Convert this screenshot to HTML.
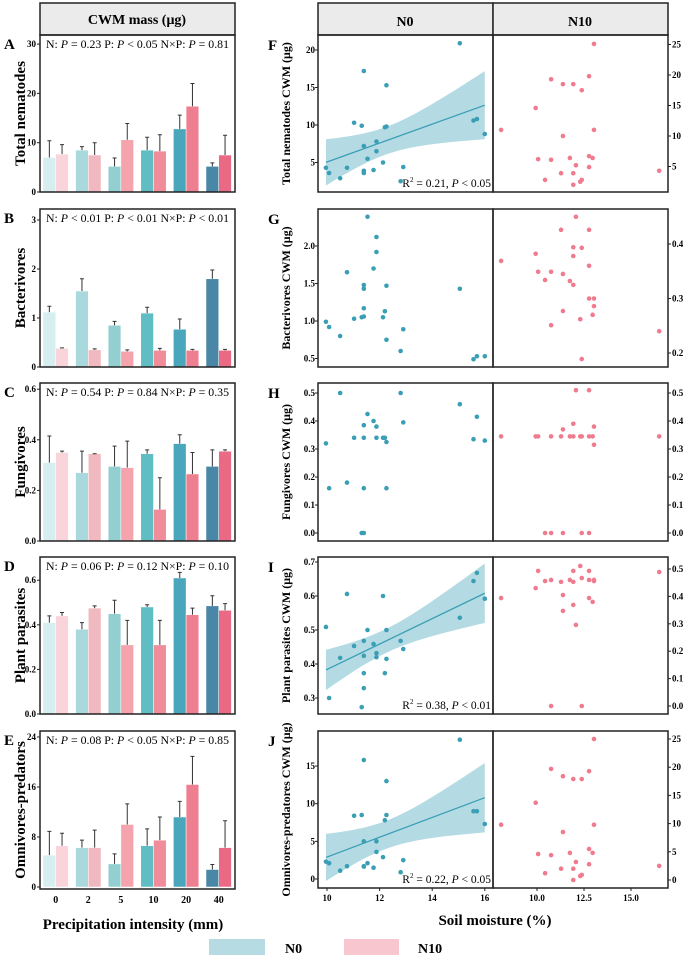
<!DOCTYPE html>
<html><head><meta charset="utf-8">
<style>
html,body{margin:0;padding:0;background:#fff;}
svg{display:block;font-family:"Liberation Serif",serif;}
</style></head>
<body>
<svg id="fig" width="685" height="958" viewBox="0 0 685 958" xmlns="http://www.w3.org/2000/svg">
  <rect x="40" y="3" width="195" height="32" fill="#ebebeb" stroke="#222" stroke-width="1.5"/>
  <text x="137" y="24" text-anchor="middle" font-weight="bold" font-size="14">CWM mass (μg)</text>
  <rect x="318" y="3" width="175" height="32" fill="#ebebeb" stroke="#222" stroke-width="1.5"/>
  <text x="405" y="26" text-anchor="middle" font-weight="bold" font-size="14">N0</text>
  <rect x="493" y="3" width="175" height="32" fill="#ebebeb" stroke="#222" stroke-width="1.5"/>
  <text x="580" y="26" text-anchor="middle" font-weight="bold" font-size="14">N10</text>
  <text x="133" y="929" text-anchor="middle" font-weight="bold" font-size="15">Precipitation intensity (mm)</text>
  <text x="495" y="925" text-anchor="middle" font-weight="bold" font-size="15">Soil moisture (%)</text>
  <rect x="209" y="939" width="56" height="16" fill="#b6dbe2"/>
  <text x="285" y="953" font-weight="bold" font-size="14">N0</text>
  <rect x="344" y="939" width="55" height="16" fill="#f7c6ce"/>
  <text x="418" y="953" font-weight="bold" font-size="14">N10</text>
</svg>
<script>
// ---------- bar chart data ----------
const precipCats = ["0","2","5","10","20","40"];
const A_n0 = [7.0,8.5,5.2,8.5,12.8,5.2];
const A_n0err = [10.4,9.2,6.9,11.1,15.6,5.9];
const A_n10 = [7.7,7.5,10.6,8.3,17.4,7.5];
const A_n10err = [9.6,10.0,13.9,11.6,22.0,11.5];
const B_n0 = [1.12,1.55,0.85,1.10,0.77,1.80];
const B_n0err = [1.24,1.80,0.93,1.22,0.98,1.98];
const B_n10 = [0.38,0.35,0.32,0.34,0.34,0.34];
const B_n10err = [0.39,0.37,0.35,0.38,0.36,0.36];
const C_n0 = [0.31,0.27,0.295,0.345,0.385,0.295];
const C_n0err = [0.415,0.355,0.375,0.36,0.42,0.36];
const C_n10 = [0.35,0.345,0.29,0.125,0.265,0.355];
const C_n10err = [0.355,0.345,0.395,0.25,0.35,0.36];
const D_n0 = [0.41,0.38,0.45,0.48,0.61,0.485];
const D_n0err = [0.44,0.41,0.51,0.49,0.635,0.53];
const D_n10 = [0.44,0.475,0.31,0.31,0.445,0.465];
const D_n10err = [0.455,0.485,0.42,0.42,0.475,0.495];
const E_n0 = [5.1,6.3,3.7,6.6,11.2,2.8];
const E_n0err = [8.9,7.5,5.3,9.3,13.7,3.6];
const E_n10 = [6.6,6.3,10.0,7.5,16.4,6.3];
const E_n10err = [8.6,9.1,13.3,11.2,20.9,10.6];
const A_ticks = [0,10,20,30];
const B_ticks = [0,1,2,3];
const C_ticks = [0.0,0.2,0.4,0.6];
const D_ticks = [0.0,0.2,0.4,0.6];
const E_ticks = [0,8,16,24];

// ---------- scatter data ----------
const N0x = [9.96,10.08,10.5,10.76,11.03,11.32,11.4,11.4,11.4,11.4,11.54,11.77,11.88,11.88,12.13,12.2,12.26,12.26,12.8,12.9,15.05,15.57,15.7,16.0];
const F_n0y = [4.3,3.6,2.9,4.3,10.3,9.9,17.2,7.2,3.9,3.6,5.5,4.0,7.8,6.5,5.0,9.7,9.8,15.3,2.5,4.4,20.9,10.6,10.8,8.8];
const G_n0y = [0.99,0.92,0.80,1.65,1.03,1.05,1.06,1.17,1.48,1.43,2.39,1.70,1.92,2.12,1.05,1.13,0.75,1.47,0.60,0.89,1.43,0.49,0.53,0.53];
const H_n0y = [0.32,0.16,0.50,0.18,0.34,0.0,0.0,0.34,0.385,0.16,0.425,0.40,0.38,0.34,0.34,0.34,0.16,0.325,0.50,0.395,0.46,0.335,0.415,0.33];
const I_n0y = [0.509,0.30,0.418,0.606,0.453,0.273,0.468,0.329,0.373,0.424,0.50,0.459,0.432,0.42,0.60,0.373,0.415,0.50,0.468,0.444,0.536,0.644,0.668,0.592];
const J_n0y = [2.3,2.1,1.1,1.7,8.4,8.5,1.7,1.65,15.8,5.0,2.1,1.5,5.0,3.6,2.9,7.8,8.5,13.0,0.9,2.5,18.5,9.0,9.0,7.3];
const F_n10x = [8.09,9.93,10.06,10.43,10.75,10.75,11.28,11.38,11.38,11.75,11.93,11.93,11.93,12.07,12.3,12.38,12.38,12.77,12.77,12.77,12.96,13.03,13.03,16.5];
const F_n10y = [11.0,14.6,6.2,2.8,19.3,6.1,3.9,18.5,10.0,6.4,3.9,18.5,2.0,5.2,2.5,2.8,17.5,4.9,19.8,6.7,6.4,11.0,25.1,4.3];
const G_n10x = [8.09,9.93,10.06,10.43,10.75,10.75,11.28,11.38,11.38,11.75,11.93,11.93,11.93,12.07,12.3,12.38,12.38,12.77,12.77,12.77,13.03,13.03,12.96,16.5];
const G_n10y = [0.369,0.382,0.349,0.334,0.251,0.349,0.426,0.345,0.277,0.332,0.394,0.378,0.325,0.45,0.262,0.393,0.189,0.426,0.36,0.30,0.30,0.286,0.27,0.24];
const H_n10x = [8.09,9.93,10.06,10.43,10.75,10.75,11.28,11.38,11.38,11.75,11.93,11.93,12.07,12.3,12.38,12.38,12.77,12.77,12.77,12.96,13.03,13.03,16.5];
const H_n10y = [0.345,0.345,0.345,0.0,0.0,0.345,0.345,0.37,0.0,0.345,0.345,0.39,0.51,0.345,0.345,0.0,0.345,0.51,0.0,0.345,0.315,0.38,0.345];
const I_n10x = [8.09,9.93,10.06,10.43,10.75,10.75,11.28,11.38,11.38,11.75,11.93,11.93,11.93,12.07,12.3,12.38,12.38,12.77,12.77,12.77,12.96,13.03,13.03,16.5];
const I_n10y = [0.394,0.43,0.493,0.456,0.0,0.46,0.453,0.347,0.405,0.46,0.493,0.453,0.369,0.296,0.511,0.467,0.0,0.493,0.394,0.46,0.38,0.456,0.46,0.489];
const J_n10x = [8.09,9.93,10.06,10.43,10.75,10.75,11.28,11.38,11.38,11.75,11.93,11.93,11.93,12.07,12.3,12.38,12.38,12.77,12.77,12.77,12.96,13.03,13.03,16.5];
const J_n10y = [9.8,13.7,4.6,1.2,19.7,4.4,2.0,18.4,8.5,4.8,2.0,17.9,0.0,3.2,0.7,0.9,17.9,19.3,2.8,5.5,4.8,9.8,25.0,2.5];
const xTicksN0 = [10,12,14,16];
const xTicksN10 = [10.0,12.5,15.0];

const NS = "http://www.w3.org/2000/svg";
const svg = document.getElementById("fig");
function mk(tag, attrs, parent){
  const e = document.createElementNS(NS, tag);
  for (const k in attrs) e.setAttribute(k, attrs[k]);
  (parent||svg).appendChild(e);
  return e;
}
const n0Cols = ["#d7eef1","#a9d9dd","#93cfd0","#5fbdc3","#4aa6bb","#4a87a7"];
const n10Cols = ["#f9d5db","#f0b8bf","#f5a3ad","#f18d9b","#ee7f90","#ea6a85"];

function barPanel(p){
  const top=p.top, bot=p.bot, L=40, R=235;
  const y = v => p.y0 - (v - p.v0) * p.k;
  const g = mk("g", {});
  
  
  p.n0.forEach((v,i)=>{
    const gx = 43 + 32.6*i;
    const b = mk("rect",{x:gx,y:y(v),width:12.7,height:y(0)-y(v),fill:n0Cols[i],stroke:"#fff","stroke-width":0.5},g);
    
    
    const e = mk("path",{d:`M${gx+6.35},${y(v)}V${y(p.n0e[i])}m-2,0h4`,stroke:"#333","stroke-width":1,fill:"none"},g);
    
    
    const v2 = p.n10[i];
    const b2 = mk("rect",{x:gx+12.7,y:y(v2),width:12.7,height:y(0)-y(v2),fill:n10Cols[i],stroke:"#fff","stroke-width":0.5},g);
    
    
    const e2 = mk("path",{d:`M${gx+19.05},${y(v2)}V${y(p.n10e[i])}m-2,0h4`,stroke:"#333","stroke-width":1,fill:"none"},g);
    
    
  });
  const fr = mk("rect",{x:L,y:top,width:R-L,height:bot-top,fill:"none",stroke:"#222","stroke-width":1.5},g);
  
  
  p.ticks.forEach(t=>{
    mk("line",{x1:L-3,x2:L,y1:y(t),y2:y(t),stroke:"#222"},g);
    const tl = mk("text",{x:L-4,y:y(t)+3,"text-anchor":"end","font-size":9,"font-weight":"bold"},g);
    tl.textContent = p.fmt(t);
    
    
  });
  const an = mk("text",{x:46,y:top+13,"font-size":11.5,textLength:183,lengthAdjust:"spacingAndGlyphs"},g);
  an.innerHTML = p.ann;
  
  
  const lt = mk("text",{x:4,y:top+14,"font-size":15,"font-weight":"bold"},g);
  lt.textContent = p.id;
  
  
  const cy=(top+bot)/2;
  const yt = mk("text",{x:0,y:0,"font-size":15,"font-weight":"bold","text-anchor":"middle",transform:`translate(25,${cy}) rotate(-90)`},g);
  yt.textContent = p.title;
  
  
  if (p.xlab){
    precipCats.forEach((c,i)=>{
      const xl = mk("text",{x:43+32.6*i+12.7,y:bot+14,"font-size":10,"font-weight":"bold","text-anchor":"middle"},g);
      xl.textContent = c;
      
      
    });
  }
}
const P = t => `<tspan font-style="italic">P</tspan>`;
const f0 = t=>String(t), f1 = t=>t.toFixed(1);
barPanel({id:"A",top:35,bot:192,y0:192,v0:0,k:4.93,n0:A_n0,n0e:A_n0err,n10:A_n10,n10e:A_n10err,ticks:A_ticks,fmt:f0,title:"Total nematodes",ann:`N: ${P()} = 0.23 P: ${P()} &lt; 0.05 N×P: ${P()} = 0.81`});
barPanel({id:"B",top:209,bot:367,y0:367,v0:0,k:49,n0:B_n0,n0e:B_n0err,n10:B_n10,n10e:B_n10err,ticks:B_ticks,fmt:f0,title:"Bacterivores",ann:`N: ${P()} &lt; 0.01 P: ${P()} &lt; 0.01 N×P: ${P()} &lt; 0.01`});
barPanel({id:"C",top:383,bot:541,y0:541,v0:0,k:253,n0:C_n0,n0e:C_n0err,n10:C_n10,n10e:C_n10err,ticks:C_ticks,fmt:f1,title:"Fungivores",ann:`N: ${P()} = 0.54 P: ${P()} = 0.84 N×P: ${P()} = 0.35`});
barPanel({id:"D",top:557,bot:714,y0:714,v0:0,k:223,n0:D_n0,n0e:D_n0err,n10:D_n10,n10e:D_n10err,ticks:D_ticks,fmt:f1,title:"Plant parasites",ann:`N: ${P()} = 0.06 P: ${P()} = 0.12 N×P: ${P()} = 0.10`});
barPanel({id:"E",top:731,bot:889,y0:887,v0:0,k:6.25,n0:E_n0,n0e:E_n0err,n10:E_n10,n10e:E_n10err,ticks:E_ticks,fmt:f0,title:"Omnivores-predators",ann:`N: ${P()} = 0.08 P: ${P()} &lt; 0.05 N×P: ${P()} = 0.85`,xlab:true});

// ---------- scatter panels ----------
const xL = v => 327 + (v-10)*26.3;
const xR = v => 537 + (v-10)*18.8;
function scatterPanel(p){
  const top=p.top, bot=p.bot;
  const g = mk("g", {});
  
  
  const cid = "clip"+p.id;
  const cp = mk("clipPath",{id:cid},g);
  mk("rect",{x:318,y:top,width:175,height:bot-top},cp);
  if (p.fit){
    const xs=p.n0x, ys=p.n0y, n=xs.length;
    const mx=xs.reduce((a,b)=>a+b)/n, my=ys.reduce((a,b)=>a+b)/n;
    let sxx=0,sxy=0; xs.forEach((x,i)=>{sxx+=(x-mx)**2;sxy+=(x-mx)*(ys[i]-my);});
    const b=sxy/sxx, a=my-b*mx;
    let sse=0; xs.forEach((x,i)=>{sse+=(ys[i]-a-b*x)**2;});
    const s=Math.sqrt(sse/(n-2)), t=2.074;
    const x0=Math.min(...xs), x1=Math.max(...xs);
    let up=[],lo=[];
    for(let k=0;k<=40;k++){
      const x=x0+(x1-x0)*k/40, yh=a+b*x, se=s*Math.sqrt(1/n+(x-mx)**2/sxx);
      up.push(`${xL(x)},${p.yL(yh+t*se)}`); lo.unshift(`${xL(x)},${p.yL(yh-t*se)}`);
    }
    const band = mk("polygon",{points:up.concat(lo).join(" "),fill:"#b4dbe3","clip-path":`url(#${cid})`},g);
    
    
    const ln = mk("line",{x1:xL(x0),y1:p.yL(a+b*x0),x2:xL(x1),y2:p.yL(a+b*x1),stroke:"#3a9fb5","stroke-width":1.3},g);
    
    
    const rt = mk("text",{x:491,y:bot-5,"text-anchor":"end","font-size":11.5},g);
    rt.innerHTML = `R<tspan font-size="7" dy="-5">2</tspan><tspan dy="5"> = ${p.r2}, </tspan><tspan font-style="italic">P</tspan> &lt; ${p.pv}`;
    
    
  }
  p.n0x.forEach((x,i)=>{
    const c = mk("circle",{cx:xL(x),cy:p.yL(p.n0y[i]),r:2.3,fill:"#3a9fb5"},g);
    
    
  });
  p.n10x.forEach((x,i)=>{
    const c = mk("circle",{cx:xR(x),cy:p.yR(p.n10y[i]),r:2.3,fill:"#f07a8e"},g);
    
    
  });
  const f1 = mk("rect",{x:318,y:top,width:175,height:bot-top,fill:"none",stroke:"#222","stroke-width":1.5},g);
  
  
  const f2 = mk("rect",{x:493,y:top,width:175,height:bot-top,fill:"none",stroke:"#222","stroke-width":1.5},g);
  
  
  p.tL.forEach(t=>{
    mk("line",{x1:315,x2:318,y1:p.yL(t),y2:p.yL(t),stroke:"#222"},g);
    const tl = mk("text",{x:315,y:p.yL(t)+3,"text-anchor":"end","font-size":9,"font-weight":"bold"},g);
    tl.textContent = p.fmtL(t);
    
    
  });
  p.tR.forEach(t=>{
    mk("line",{x1:668,x2:671,y1:p.yR(t),y2:p.yR(t),stroke:"#222"},g);
    const tl = mk("text",{x:672,y:p.yR(t)+3,"font-size":9,"font-weight":"bold"},g);
    tl.textContent = p.fmtR(t);
    
    
  });
  const lt = mk("text",{x:268,y:top+15,"font-size":15,"font-weight":"bold"},g);
  lt.textContent = p.id;
  
  
  const yt = mk("text",{x:0,y:0,"font-size":12,"font-weight":"bold","text-anchor":"middle",transform:`translate(290,${(top+bot)/2}) rotate(-90)`},g);
  yt.textContent = p.title;
  
  
  if (p.xlab){
    xTicksN0.forEach(t=>{
      mk("line",{x1:xL(t),x2:xL(t),y1:bot,y2:bot+3,stroke:"#222"},g);
      const xl = mk("text",{x:xL(t),y:bot+13,"font-size":9,"font-weight":"bold","text-anchor":"middle"},g);
      xl.textContent = String(t);
      
      
    });
    xTicksN10.forEach(t=>{
      mk("line",{x1:xR(t),x2:xR(t),y1:bot,y2:bot+3,stroke:"#222"},g);
      const xl = mk("text",{x:xR(t),y:bot+13,"font-size":9,"font-weight":"bold","text-anchor":"middle"},g);
      xl.textContent = t.toFixed(1);
      
      
    });
  }
}
const i0=t=>String(t), d1=t=>t.toFixed(1);
scatterPanel({id:"F",top:35,bot:192,n0x:N0x,n0y:F_n0y,n10x:F_n10x,n10y:F_n10y,yL:v=>200-7.5*v,yR:v=>197-6.1*v,tL:[5,10,15,20],tR:[5,10,15,20,25],fmtL:i0,fmtR:i0,title:"Total nematodes CWM (μg)",fit:true,r2:"0.21",pv:"0.05"});
scatterPanel({id:"G",top:209,bot:367,n0x:N0x,n0y:G_n0y,n10x:G_n10x,n10y:G_n10y,yL:v=>396-75*v,yR:v=>244-(v-0.4)*545,tL:[0.5,1.0,1.5,2.0],tR:[0.2,0.3,0.4],fmtL:d1,fmtR:d1,title:"Bacterivores CWM (μg)"});
scatterPanel({id:"H",top:383,bot:541,n0x:N0x,n0y:H_n0y,n10x:H_n10x,n10y:H_n10y,yL:v=>533-280*v,yR:v=>533-280*v,tL:[0,0.1,0.2,0.3,0.4,0.5],tR:[0,0.1,0.2,0.3,0.4,0.5],fmtL:d1,fmtR:d1,title:"Fungivores CWM (μg)"});
scatterPanel({id:"I",top:557,bot:714,n0x:N0x,n0y:I_n0y,n10x:I_n10x,n10y:I_n10y,yL:v=>562-(v-0.7)*340,yR:v=>706-274*v,tL:[0.3,0.4,0.5,0.6,0.7],tR:[0,0.1,0.2,0.3,0.4,0.5],fmtL:d1,fmtR:d1,title:"Plant parasites CWM (μg)",fit:true,r2:"0.38",pv:"0.01"});
scatterPanel({id:"J",top:731,bot:888,n0x:N0x,n0y:J_n0y,n10x:J_n10x,n10y:J_n10y,yL:v=>879-7.53*v,yR:v=>880-5.64*v,tL:[0,5,10,15],tR:[0,5,10,15,20,25],fmtL:i0,fmtR:i0,title:"Omnivores-predatores CWM (μg)",fit:true,r2:"0.22",pv:"0.05",xlab:true});
</script>
</body></html>
